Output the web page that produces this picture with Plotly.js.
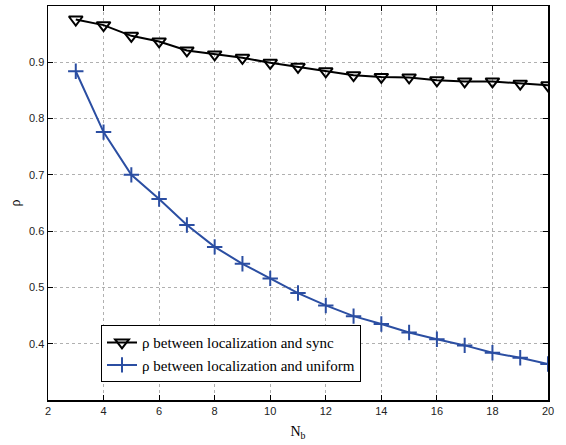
<!DOCTYPE html>
<html>
<head>
<meta charset="utf-8">
<script src="https://cdn.plot.ly/plotly-3.0.1.min.js"></script>
<style>html,body{margin:0;padding:0;background:#fff;}#chart{width:566px;height:445px;}</style>
</head>
<body>
<div id="chart"></div>
<script>
const Nb = [3,4,5,6,7,8,9,10,11,12,13,14,15,16,17,18,19,20];
const rhoSync = [0.976,0.966,0.947,0.937,0.921,0.914,0.908,0.899,0.892,0.884,0.877,0.874,0.873,0.868,0.866,0.866,0.862,0.859];
const rhoUniform = [0.884,0.776,0.700,0.657,0.611,0.572,0.542,0.516,0.490,0.468,0.449,0.435,0.420,0.408,0.397,0.384,0.375,0.364];
const seriesNames = ["ρ between localization and sync","ρ between localization and uniform"];
const xTicks = [2,4,6,8,10,12,14,16,18,20];
const yTicks = [0.4,0.5,0.6,0.7,0.8,0.9,1];
const yTickText = ["0.4","0.5","0.6","0.7","0.8","0.9","1"];

const serif = "'Liberation Serif', 'Times New Roman', Times, serif";
const sans = "'Liberation Sans', Arial, Helvetica, sans-serif";

const traces = [
  {x: Nb, y: rhoSync, name: seriesNames[0], mode: "lines+markers", type: "scatter",
   line: {color: "#000000", width: 2},
   marker: {symbol: "triangle-down-open", size: 12, color: "#000000", line: {width: 2, color: "#000000"}}},
  {x: Nb, y: rhoUniform, name: seriesNames[1], mode: "lines+markers", type: "scatter",
   line: {color: "#2b4ea2", width: 2},
   marker: {symbol: "cross-thin-open", size: 11, color: "#2b4ea2", line: {width: 2, color: "#2b4ea2"}}}
];

const axisCommon = {
  showline: true, mirror: "ticks", linecolor: "#000", linewidth: 1.5,
  ticks: "inside", ticklen: 5, tickcolor: "#000",
  showgrid: true, gridcolor: "#b0b0b0", griddash: "dot", gridwidth: 1,
  zeroline: false,
  tickfont: {family: sans, size: 11, color: "#222"}
};

const layout = {
  width: 566, height: 445,
  margin: {l: 48, r: 18, t: 6, b: 45},
  paper_bgcolor: "#fff", plot_bgcolor: "#fff",
  showlegend: true,
  xaxis: Object.assign({}, axisCommon, {
    range: [2, 20], tickvals: xTicks,
    title: {text: "N<sub>b</sub>", font: {family: serif, size: 14, color: "#000"}, standoff: 10}
  }),
  yaxis: Object.assign({}, axisCommon, {
    range: [0.3, 1], tickvals: yTicks, ticktext: yTickText,
    title: {text: "ρ", font: {family: serif, size: 14, color: "#000"}, standoff: 5}
  }),
  legend: {
    x: 0.106, y: 0.19, xanchor: "left", yanchor: "top",
    bgcolor: "#fff", bordercolor: "#000", borderwidth: 1,
    font: {family: serif, size: 15, color: "#000"},
    tracegroupgap: 0
  }
};

Plotly.newPlot("chart", traces, layout, {displayModeBar: false, staticPlot: true});
</script>
</body>
</html>
